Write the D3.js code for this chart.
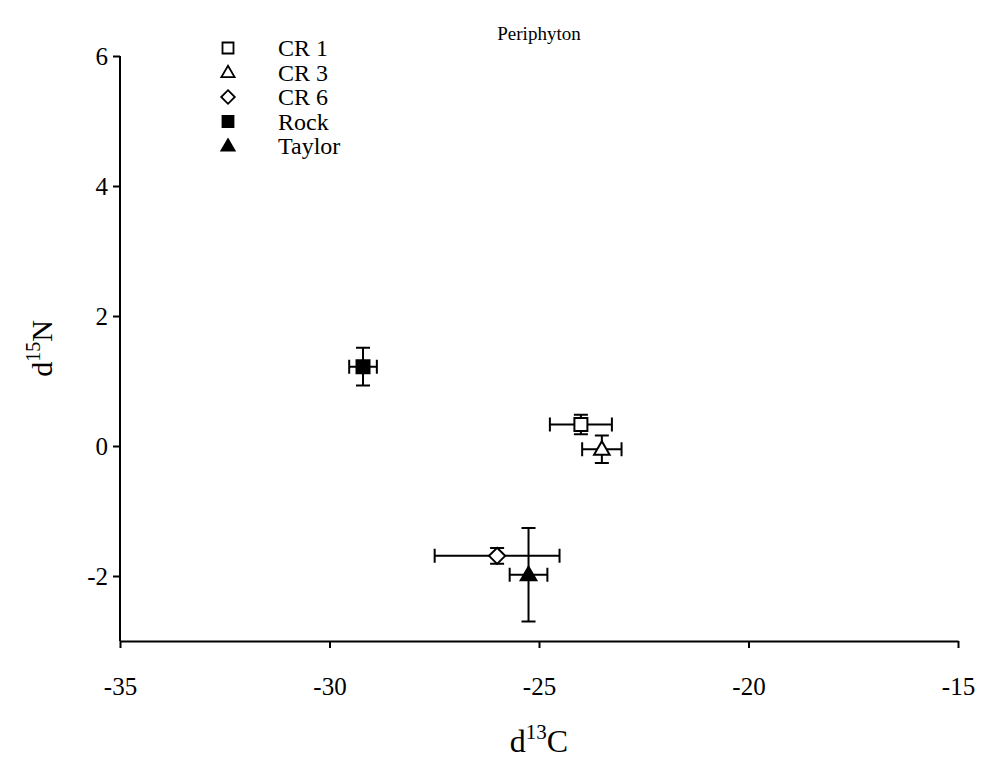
<!DOCTYPE html>
<html>
<head>
<meta charset="utf-8">
<script src="https://cdn.jsdelivr.net/npm/d3@7"></script>
<style>
  body { margin: 0; background: #fff; }
  text { font-family: "Liberation Serif", "Times New Roman", serif; fill: #000; }
</style>
</head>
<body>
<div id="chart"></div>
<script>
// sites, in legend order
var sites = ["CR 1", "CR 3", "CR 6", "Rock", "Taylor"];
var d13C = [-24.0, -23.5, -26.0, -29.2, -25.25];
var d13Cerr = [0.74, 0.47, 1.49, 0.33, 0.45];
var d15N = [0.33, -0.05, -1.69, 1.22, -1.98];
var d15Nerr = [0.15, 0.21, 0.12, 0.29, 0.72];
var xTicks = [-35, -30, -25, -20, -15];
var yTicks = [-2, 0, 2, 4, 6];

var shapes = ["square", "triangle", "diamond", "square", "triangle"];
var filled = [false, false, false, true, true];

var W = 981, H = 764;
var margin = {left: 120, right: 23, top: 56, bottom: 123};

var svg = d3.select("#chart").append("svg")
	.attr("width", W)
	.attr("height", H);

var x = d3.scaleLinear().domain([-35, -15]).range([margin.left, W - margin.right]);
var y = d3.scaleLinear().domain([-3, 6]).range([H - margin.bottom, margin.top]);

var fmt = function(d){ return String(d); }; // plain hyphen like the original

// axes
var xAxis = svg.append("g")
	.attr("transform", "translate(0," + (H - margin.bottom) + ")")
	.call(d3.axisBottom(x).tickValues(xTicks).tickFormat(fmt).tickSize(7).tickSizeOuter(0).tickPadding(29));
var yAxis = svg.append("g")
	.attr("transform", "translate(" + margin.left + ",0)")
	.call(d3.axisLeft(y).tickValues(yTicks).tickFormat(fmt).tickSize(7).tickSizeOuter(0).tickPadding(5));

[xAxis, yAxis].forEach(function(g){
	g.select(".domain").attr("stroke", "#000").attr("stroke-width", 2);
	g.selectAll(".tick line").attr("stroke", "#000").attr("stroke-width", 2);
	g.selectAll(".tick text")
		.style("font-family", "'Liberation Serif', 'Times New Roman', serif")
		.style("font-size", "25px")
		.attr("fill", "#000");
});

// y axis extends to the very bottom (-3) with no tick there
yAxis.select(".domain").attr("d", "M0," + y(6) + "V" + y(-3));

// title
svg.append("text")
	.attr("x", x(-25))
	.attr("y", 40)
	.attr("text-anchor", "middle")
	.style("font-size", "19px")
	.text("Periphyton");

// x axis label
var xl = svg.append("text")
	.attr("x", x(-25))
	.attr("y", 752)
	.attr("text-anchor", "middle")
	.style("font-size", "32px");
xl.append("tspan").text("d");
xl.append("tspan").attr("dy", -13).style("font-size", "21px").text("13");
xl.append("tspan").attr("dy", 13).text("C");

// y axis label
var yl = svg.append("text")
	.attr("transform", "translate(52," + y(1.5) + ") rotate(-90)")
	.attr("text-anchor", "middle")
	.style("font-size", "30px");
yl.append("tspan").text("d");
yl.append("tspan").attr("dy", -12).style("font-size", "20px").text("15");
yl.append("tspan").attr("dy", 12).text("N");

function symbolPath(shape, s)
{
	if (shape == "square") return d3.symbol().type(d3.symbolSquare).size(s * s)();
	if (shape == "triangle") return "M0," + (-s * 0.62) + "L" + (s * 0.6) + "," + (s * 0.42) + "L" + (-s * 0.6) + "," + (s * 0.42) + "Z";
	return "M0," + (-s * 0.62) + "L" + (s * 0.62) + ",0L0," + (s * 0.62) + "L" + (-s * 0.62) + ",0Z";
}

var data = sites.map(function(name, i){
	return {name: name, x: d13C[i], xe: d13Cerr[i], y: d15N[i], ye: d15Nerr[i], shape: shapes[i], fill: filled[i]};
});

var cap = 7;
var pts = svg.append("g").selectAll("g").data(data).enter().append("g");

// error bars
pts.append("path")
	.attr("fill", "none")
	.attr("stroke", "#000")
	.attr("stroke-width", 2)
	.attr("d", function(d){
		var cx = x(d.x), cy = y(d.y);
		var x1 = x(d.x - d.xe), x2 = x(d.x + d.xe);
		var y1 = y(d.y + d.ye), y2 = y(d.y - d.ye);
		return "M" + x1 + "," + cy + "H" + x2 +
			"M" + x1 + "," + (cy - cap) + "V" + (cy + cap) +
			"M" + x2 + "," + (cy - cap) + "V" + (cy + cap) +
			"M" + cx + "," + y1 + "V" + y2 +
			"M" + (cx - cap) + "," + y1 + "H" + (cx + cap) +
			"M" + (cx - cap) + "," + y2 + "H" + (cx + cap);
	});

// markers
pts.append("path")
	.attr("transform", function(d){ return "translate(" + x(d.x) + "," + y(d.y) + ")"; })
	.attr("d", function(d){ return symbolPath(d.shape, 13); })
	.attr("fill", function(d){ return d.fill ? "#000" : "#fff"; })
	.attr("stroke", "#000")
	.attr("stroke-width", 2);

// legend
var leg = svg.append("g").selectAll("g").data(data).enter().append("g")
	.attr("transform", function(d, i){ return "translate(228," + (48 + i * 24.5) + ")"; });
leg.append("path")
	.attr("d", function(d){ return symbolPath(d.shape, 11); })
	.attr("fill", function(d){ return d.fill ? "#000" : "#fff"; })
	.attr("stroke", "#000")
	.attr("stroke-width", 1.8);
leg.append("text")
	.attr("x", 50)
	.attr("y", 8)
	.style("font-size", "24px")
	.text(function(d){ return d.name; });
</script>
</body>
</html>
